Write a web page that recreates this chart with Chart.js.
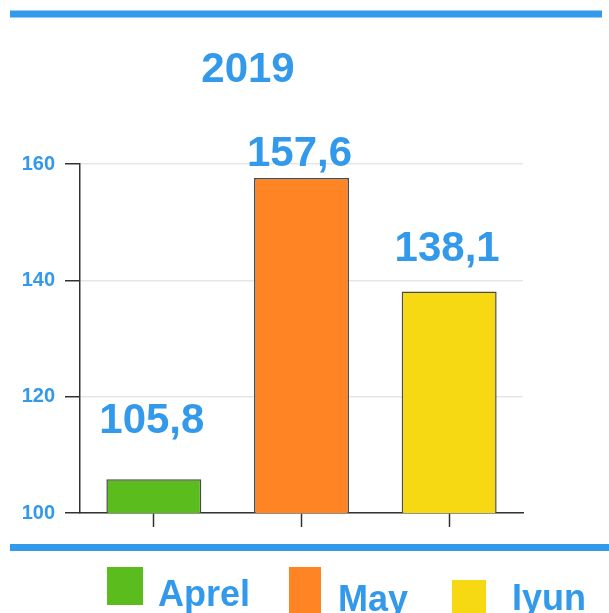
<!DOCTYPE html>
<html>
<head>
<meta charset="utf-8">
<style>
  html, body { margin: 0; padding: 0; background: #ffffff; }
  canvas { display: block; }
</style>
<script src="https://cdn.jsdelivr.net/npm/chart.js@4.4.0/dist/chart.umd.min.js"></script>
</head>
<body>
<canvas id="c" width="609" height="613"></canvas>
<script>
// ---- data ----
const titleText = "2019";
const categories = ["Aprel", "May", "Iyun"];
const values = [105.8, 157.6, 138.1];
const valueLabels = ["105,8", "157,6", "138,1"];
const yTicks = [100, 120, 140, 160];
const barColors = ["#5bbc1e", "#fe8424", "#f7d913"];

const BLUE = "#3399ea";
const FONT = "'Liberation Sans', Arial, sans-serif";

// label gap above bar top (style)
const labelGaps = [46, 12, 30];

const decorPlugin = {
  id: "decor",
  beforeDraw(chart) {
    const ctx = chart.ctx;
    ctx.save();
    ctx.fillStyle = BLUE;
    ctx.fillRect(10, 10.5, 592, 7);
    ctx.fillRect(10, 544, 599, 7);
    // title
    ctx.font = "bold 42px " + FONT;
    ctx.textAlign = "center";
    ctx.textBaseline = "alphabetic";
    ctx.fillText(titleText, 248, 82);
    ctx.restore();
  },
  afterDatasetsDraw(chart) {
    const ctx = chart.ctx;
    const meta = chart.getDatasetMeta(0);
    ctx.save();
    ctx.fillStyle = BLUE;
    ctx.font = "bold 42px " + FONT;
    ctx.textAlign = "center";
    ctx.textBaseline = "alphabetic";
    meta.data.forEach((bar, i) => {
      ctx.fillText(valueLabels[i], bar.x - 2, bar.y - labelGaps[i]);
    });
    ctx.restore();
  },
  afterDraw(chart) {
    const ctx = chart.ctx;
    // legend layout (style)
    const layout = [
      { bx: 107, by: 567, bw: 36, bh: 38, tx: 158, ty: 606 },
      { bx: 289, by: 567, bw: 32, bh: 50, tx: 338, ty: 611 },
      { bx: 452, by: 580, bw: 34, bh: 40, tx: 512, ty: 610 }
    ];
    ctx.save();
    ctx.font = "bold 36px " + FONT;
    ctx.textAlign = "left";
    ctx.textBaseline = "alphabetic";
    chart.data.labels.forEach((lab, i) => {
      const L = layout[i];
      ctx.fillStyle = chart.data.datasets[0].backgroundColor[i];
      ctx.fillRect(L.bx, L.by, L.bw, L.bh);
      ctx.fillStyle = BLUE;
      ctx.fillText(lab, L.tx, L.ty);
    });
    ctx.restore();
  }
};

new Chart(document.getElementById("c"), {
  type: "bar",
  data: {
    labels: categories,
    datasets: [{
      data: values,
      backgroundColor: barColors,
      borderColor: "#4a4a4a",
      borderWidth: 1.5,
      borderSkipped: false,
      categoryPercentage: 1.0,
      barPercentage: 0.643
    }]
  },
  options: {
    responsive: false,
    animation: false,
    layout: { padding: { top: 164, right: 86, left: 0, bottom: 0 } },
    plugins: {
      legend: { display: false },
      title: { display: false },
      tooltip: { enabled: false }
    },
    scales: {
      x: {
        offset: true,
        afterFit(scale) { scale.height = 100; },
        grid: {
          offset: false,
          drawOnChartArea: false,
          drawTicks: true,
          tickLength: 14,
          tickColor: "#333333",
          tickWidth: 1.5
        },
        border: { display: true, color: "#333333", width: 1.5 },
        ticks: { display: false }
      },
      y: {
        min: 100,
        max: 160,
        afterFit(scale) { scale.width = 80; },
        afterBuildTicks(scale) { scale.ticks = yTicks.map(v => ({ value: v })); },
        grid: {
          color: "#e6e6e6",
          lineWidth: 1.5,
          tickLength: 15,
          tickColor: "#333333",
          tickWidth: 1.5
        },
        border: { display: true, color: "#333333", width: 1.5 },
        ticks: {
          color: BLUE,
          padding: 10,
          font: { family: FONT, size: 20, weight: "bold" }
        }
      }
    }
  },
  plugins: [decorPlugin]
});
</script>
</body>
</html>
